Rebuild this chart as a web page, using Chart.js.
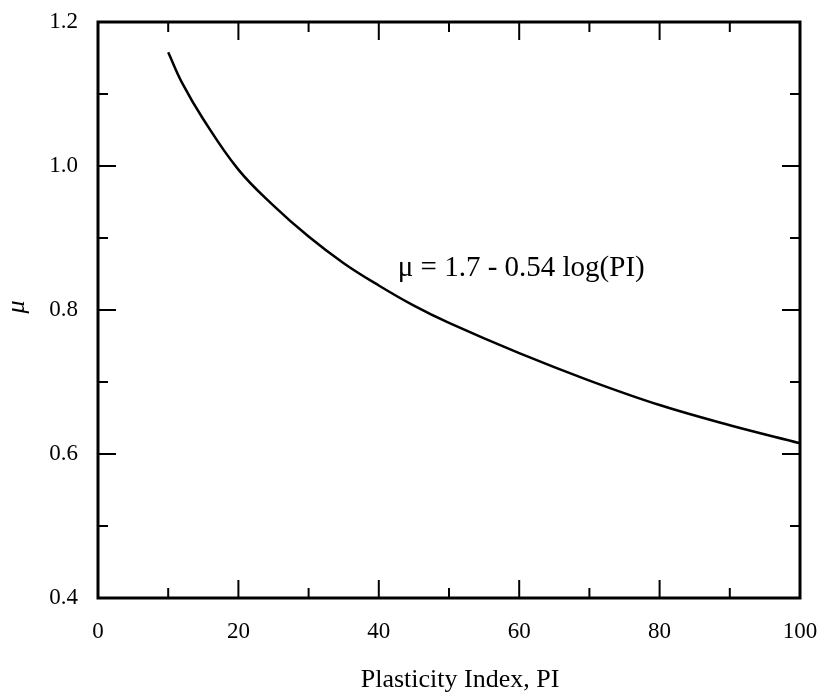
<!DOCTYPE html>
<html>
<head>
<meta charset="utf-8">
<script src="https://cdn.jsdelivr.net/npm/chart.js@4/dist/chart.umd.min.js"></script>
<style>
  html, body { margin: 0; padding: 0; background: #fff; }
  #wrap { width: 820px; height: 699px; }
</style>
</head>
<body>
<div id="wrap"><canvas id="muChart" width="820" height="699"></canvas></div>
<script>
// values
var plasticityIndex = [10, 12, 15, 20, 25, 30, 35, 40, 45, 50, 60, 70, 80, 90, 100];
var muValues = [1.158, 1.115, 1.065, 0.995, 0.945, 0.902, 0.865, 0.834, 0.806, 0.782, 0.740, 0.702, 0.668, 0.640, 0.615];

var xMajorTicks = [0, 20, 40, 60, 80, 100];
var xMinorTicks = [10, 30, 50, 70, 90];
var yMajorTicks = [0.4, 0.6, 0.8, 1.0, 1.2];
var yMinorTicks = [0.5, 0.7, 0.9, 1.1];

var equationText = "\u03bc = 1.7 - 0.54 log(PI)";
var xTitle = "Plasticity Index, PI";
var yTitle = "\u03bc";

var points = plasticityIndex.map(function (pi, i) {
  return { x: pi, y: muValues[i] };
});

var serif = "'Liberation Serif', 'DejaVu Serif', serif";

// frame, inward ticks and text
var framePlugin = {
  id: "frame",
  afterDraw: function (chart) {
    var c = chart.ctx;
    var xs = chart.scales.x, ys = chart.scales.y;
    var a = chart.chartArea;
    c.save();
    c.strokeStyle = "#000";
    c.lineWidth = 3;
    c.strokeRect(a.left, a.top, a.right - a.left, a.bottom - a.top);

    c.lineWidth = 2;
    function xt(v, len) {
      var px = xs.getPixelForValue(v);
      c.beginPath();
      c.moveTo(px, a.bottom); c.lineTo(px, a.bottom - len);
      c.moveTo(px, a.top); c.lineTo(px, a.top + len);
      c.stroke();
    }
    function yt(v, len) {
      var py = ys.getPixelForValue(v);
      c.beginPath();
      c.moveTo(a.left, py); c.lineTo(a.left + len, py);
      c.moveTo(a.right, py); c.lineTo(a.right - len, py);
      c.stroke();
    }
    xMajorTicks.forEach(function (v) { xt(v, 18); });
    xMinorTicks.forEach(function (v) { xt(v, 10); });
    yMajorTicks.forEach(function (v) { yt(v, 18); });
    yMinorTicks.forEach(function (v) { yt(v, 10); });

    c.fillStyle = "#000";
    c.font = "29px " + serif;
    c.textBaseline = "middle";
    c.textAlign = "left";
    c.fillText(equationText, xs.getPixelForValue(42.7), ys.getPixelForValue(0.858));

    c.textAlign = "center";
    c.font = "26px " + serif;
    c.fillText(xTitle, 460, 680);

    c.translate(17, 307);
    c.rotate(-Math.PI / 2);
    c.font = "italic 26px " + serif;
    c.fillText(yTitle, 0, 0);
    c.restore();
  }
};

new Chart(document.getElementById("muChart").getContext("2d"), {
  type: "line",
  data: {
    datasets: [{
      data: points,
      borderColor: "#000",
      borderWidth: 2.5,
      pointRadius: 0,
      fill: false,
      tension: 0.4
    }]
  },
  options: {
    responsive: false,
    animation: false,
    layout: { padding: { top: 22, right: 20, left: 0, bottom: 0 } },
    plugins: { legend: { display: false }, tooltip: { enabled: false } },
    scales: {
      x: {
        type: "linear",
        min: 0, max: 100,
        afterFit: function (s) { s.height = 101; s.paddingLeft = 0; s.paddingRight = 0; },
        grid: { display: false, drawTicks: false },
        border: { display: false },
        ticks: {
          stepSize: 20, padding: 20, color: "#000",
          font: { family: serif, size: 23 },
          maxRotation: 0
        }
      },
      y: {
        min: 0.4, max: 1.2,
        afterFit: function (s) { s.width = 98; s.paddingTop = 0; s.paddingBottom = 0; },
        grid: { display: false, drawTicks: false },
        border: { display: false },
        ticks: {
          stepSize: 0.2, padding: 20, color: "#000",
          font: { family: serif, size: 23 },
          callback: function (v) { return Number(v).toFixed(1); }
        }
      }
    }
  },
  plugins: [framePlugin]
});
</script>
</body>
</html>
